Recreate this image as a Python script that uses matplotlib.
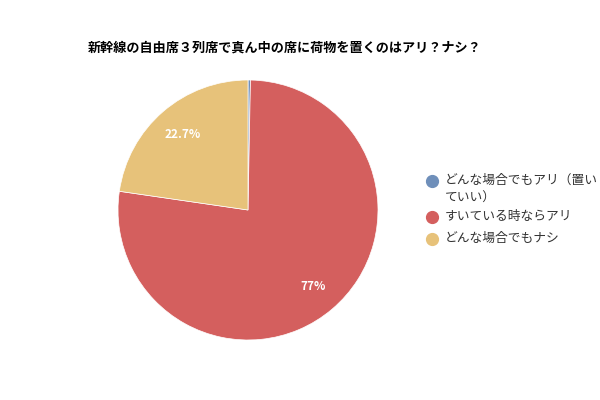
import matplotlib.pyplot as plt

plt.rcParams['font.family'] = ['Noto Sans CJK JP', 'DejaVu Sans']

title = '新幹線の自由席３列席で真ん中の席に荷物を置くのはアリ？ナシ？'
labels = ['どんな場合でもアリ（置い\nていい）', 'すいている時ならアリ', 'どんな場合でもナシ']
values = [0.3, 77.0, 22.7]
colors = ['#6f8fba', '#d45f5e', '#e7c27a']


def fmt(p):
    return '' if p < 1 else '{:g}%'.format(round(p, 1))


fig = plt.figure(figsize=(6, 4), dpi=100)
ax = fig.add_axes([118 / 600, 60 / 400, 260 / 600, 260 / 400])
wedges, texts, autotexts = ax.pie(values, colors=colors, startangle=90, counterclock=False,
                                  autopct=fmt, pctdistance=0.77,
                                  wedgeprops=dict(edgecolor='white', linewidth=0.5))
for t in autotexts:
    t.set_color('white')
    t.set_fontweight('bold')
    t.set_fontsize(8.5)
ax.set_xlim(-1, 1)
ax.set_ylim(-1, 1)
ax.set_aspect('equal')

fig.text(88 / 600, 1 - 48 / 400, title, fontsize=9.45, fontweight='bold', va='center', ha='left')

# legend
ys = [181, 217, 239]
for lab, c, y in zip(labels, colors, ys):
    fig.lines.append(plt.Line2D([432 / 600], [1 - y / 400], marker='o', markersize=8.5,
                                color=c, transform=fig.transFigure))
    fig.text(445 / 600, 1 - (y - 7) / 400, lab, fontsize=9.2, va='top', ha='left',
             color='#333333', linespacing=1.45)

fig.savefig('out.png', dpi=100, facecolor='white')
